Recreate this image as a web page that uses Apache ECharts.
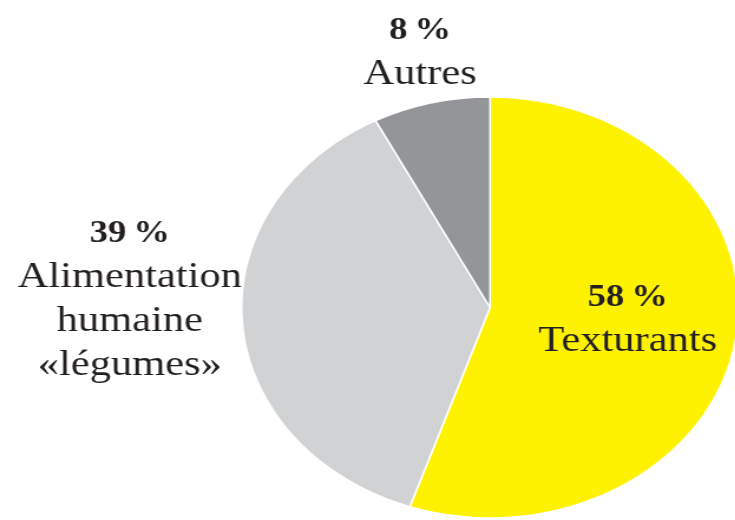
<!DOCTYPE html>
<html>
<head>
<meta charset="utf-8">
<script src="https://cdn.jsdelivr.net/npm/echarts@6/dist/echarts.min.js"></script>
<style>
  html, body { margin: 0; padding: 0; background: #ffffff; overflow: hidden; }
  /* the chart is drawn narrower, then widened so the pie becomes an ellipse */
  #chart { width: 623px; height: 520px; transform: scaleX(1.18); transform-origin: 0 0; }
</style>
</head>
<body>
<div id="chart"></div>
<script>
// Répartition des usages (%)
const categories = ['Texturants', 'Alimentation\nhumaine\n«légumes»', 'Autres'];
const percentages = [58, 39, 8];
const sliceColors = ['#fff200', '#d1d2d4', '#939598'];

// label anchor points (chart pixels, before horizontal widening)
const labelAnchors = [[532, 320], [110, 300], [356, 53]];

const chart = echarts.init(document.getElementById('chart'), null, { renderer: 'canvas' });

chart.setOption({
  animation: false,
  backgroundColor: '#ffffff',
  series: [{
    type: 'pie',
    center: [415.3, 307.5],
    radius: 210.5,
    startAngle: 90,
    clockwise: true,
    silent: true,
    itemStyle: { borderColor: '#ffffff', borderWidth: 1.5 },
    labelLine: { show: false },
    label: {
      show: true,
      position: 'inside',
      color: '#231f20',
      formatter: (p) => '{pct|' + p.value + '\u2009%}\n{name|' + p.name.split('\n').join('}\n{name|') + '}',
      rich: {
        pct: { fontFamily: 'Liberation Serif', fontWeight: 'bold', fontSize: 31, lineHeight: 44, color: '#231f20', align: 'center' },
        name: { fontFamily: 'Liberation Serif', fontSize: 36, lineHeight: 44, color: '#231f20', align: 'center' }
      }
    },
    labelLayout: (params) => ({
      x: labelAnchors[params.dataIndex][0],
      y: labelAnchors[params.dataIndex][1],
      align: 'center',
      verticalAlign: 'middle'
    }),
    data: categories.map((name, i) => ({
      name: name,
      value: percentages[i],
      itemStyle: { color: sliceColors[i] }
    }))
  }]
});
</script>
</body>
</html>
